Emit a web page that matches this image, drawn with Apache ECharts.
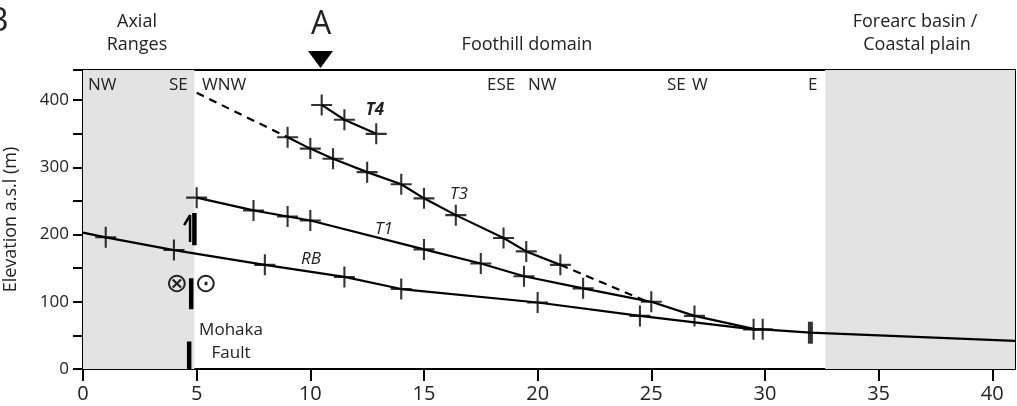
<!DOCTYPE html>
<html><head><meta charset="utf-8">
<script src="https://cdn.jsdelivr.net/npm/echarts@6/dist/echarts.min.js"></script>
<style>html,body{margin:0;padding:0;background:#fff}#c{width:1017px;height:406px}</style>
</head><body><div id="c"></div>
<script>
// ---- data (distance km, elevation m) ----
const rbStart = [0, 203];
const rbPoints = [[1,196],[4,177],[8,155],[11.5,137],[14,119],[20,99],[24.5,79],[29.5,59],[29.9,59]];
const rbEnd = [[32,54],[41,42]];
const t1Points = [[5,255],[7.5,236],[9,227],[10,221],[15,178],[17.5,157],[19.4,138],[22,120],[25,100],[26.9,79]];
const t1End = [29.6,59];
const t3Points = [[9,345],[10,328],[11,313],[12.5,293],[14,275],[15,254],[16.4,229],[18.5,195],[19.5,175],[21,155]];
const t3DashStart = [5,411];
const t3DashEnd = [24.7,102];
const t4Points = [[10.5,393],[11.5,371],[12.9,350]];
const outletPoint = [32,54];
const faultSegments = [[[4.9,184],[4.9,232]],[[4.76,89],[4.76,135]],[[4.67,0],[4.67,41]]];
const upthrowArrow = [[4.71,189],[4.71,229],[4.45,214]];
const shadedRanges = [[0,4.9],[32.65,41]];
const xRange = [0, 41];
const yRange = [0, 445];

const FONT = 'Open Sans';
const TXT = '#222';
const plus = 'path://M9,0H11V9H20V11H11V20H9V11H0V9H9Z';

const chart = echarts.init(document.getElementById('c'));

function lineS(data, extra) {
  return Object.assign({type:'line', data, showSymbol:false, symbol:'none', silent:true,
    lineStyle:{color:'#000', width:2.2}, z:5, animation:false}, extra||{});
}
function crossS(data) {
  return {type:'scatter', data, symbol:plus, symbolSize:21, itemStyle:{color:'#000'}, z:6, silent:true, animation:false};
}

const series = [
  {type:'line', data:[], symbol:'none', silent:true, z:1, animation:false,
   markArea:{silent:true, itemStyle:{color:'#e3e3e3'},
     data: shadedRanges.map(r => [{xAxis:r[0]},{xAxis:r[1]}])}},
  lineS([rbStart, ...rbPoints, ...rbEnd]),
  lineS([...t1Points, t1End]),
  lineS(t3Points),
  lineS([t3DashStart, t3Points[0]], {lineStyle:{color:'#000', width:2.2, type:[8,6]}}),
  lineS([t3Points[t3Points.length-1], t3DashEnd], {lineStyle:{color:'#000', width:2.2, type:[8,6]}}),
  lineS(t4Points),
  crossS(rbPoints), crossS(t1Points), crossS(t3Points), crossS(t4Points),
  {type:'scatter', data:[outletPoint], symbol:'rect', symbolSize:[5,22], itemStyle:{color:'#000'}, z:6, silent:true, animation:false},
  ...faultSegments.map(s => lineS(s, {lineStyle:{color:'#000', width:4.5}})),
  lineS(upthrowArrow, {lineStyle:{color:'#000', width:2.5}})
];

function txt(text, x, y, size, opts) {
  return {type:'text', x, y, silent:true, z:100,
    style:Object.assign({text, font:(opts&&opts.font)||(size+'px "'+FONT+'"'), fill:TXT,
      align:'center', verticalAlign:'middle'}, (opts&&opts.style)||{})};
}

chart.setOption({
  animation:false,
  grid:{left:83, right:2, top:70, bottom:37, show:true, borderColor:'#000', borderWidth:2,
    backgroundColor:'transparent', containLabel:false, outerBoundsMode:'none'},
  xAxis:{type:'value', min:xRange[0], max:xRange[1], interval:5,
    axisLine:{lineStyle:{color:'#000', width:2}},
    axisTick:{length:12, lineStyle:{color:'#000', width:2}},
    axisLabel:{fontSize:20, fontFamily:FONT, color:TXT, margin:15, showMaxLabel:false},
    splitLine:{show:false}},
  yAxis:{type:'value', min:yRange[0], max:yRange[1], interval:50,
    name:'Elevation a.s.l (m)', nameLocation:'middle', nameGap:63, nameRotate:90,
    nameTextStyle:{fontSize:18, fontFamily:FONT, color:TXT},
    axisLine:{lineStyle:{color:'#000', width:2}},
    axisTick:{length:10, lineStyle:{color:'#000', width:2}},
    axisLabel:{fontSize:17, fontFamily:FONT, color:TXT, margin:14,
      formatter: v => (v % 100 === 0 ? String(v) : '')},
    splitLine:{show:false}},
  series,
  graphic:[
    txt('B', -2, 22, 32),
    txt('Axial', 137, 22, 18),
    txt('Ranges', 137, 45, 18),
    txt('A', 321, 25, 32),
    {type:'polygon', shape:{points:[[308,51],[333,51],[320.5,68]]}, style:{fill:'#000'}, z:100, silent:true},
    txt('Foothill domain', 527, 45, 18),
    txt('Forearc basin /', 915, 22, 18),
    txt('Coastal plain', 917, 45, 18),
    txt('NW', 88, 85, 17, {style:{align:'left'}}),
    txt('SE', 169, 85, 17, {style:{align:'left'}}),
    txt('WNW', 202, 85, 17, {style:{align:'left'}}),
    txt('ESE', 487, 85, 17, {style:{align:'left'}}),
    txt('NW', 528, 85, 17, {style:{align:'left'}}),
    txt('SE', 667, 85, 17, {style:{align:'left'}}),
    txt('W', 692, 85, 17, {style:{align:'left'}}),
    txt('E', 808, 85, 17, {style:{align:'left'}}),
    txt('T4', 375, 110, 17, {font:'italic bold 17px "'+FONT+'"'}),
    txt('T3', 459, 194, 17, {font:'italic 17px "'+FONT+'"'}),
    txt('T1', 384, 229, 17, {font:'italic 17px "'+FONT+'"'}),
    txt('RB', 311, 259, 17, {font:'italic 17px "'+FONT+'"'}),
    txt('\u2297', 177, 285, 27, {font:'27px "DejaVu Sans"'}),
    txt('\u2299', 206, 285, 27, {font:'27px "DejaVu Sans"'}),
    txt('Mohaka', 231, 330, 17),
    txt('Fault', 231, 353, 17)
  ]
});
</script></body></html>
